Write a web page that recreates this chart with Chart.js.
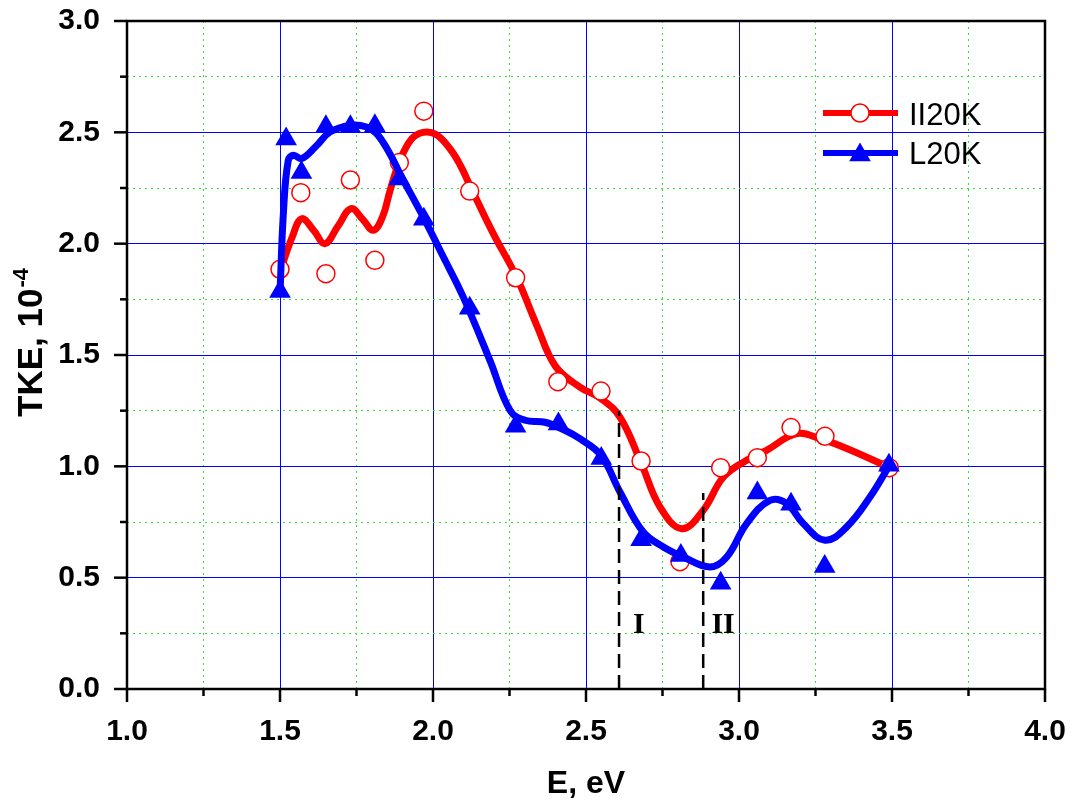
<!DOCTYPE html>
<html>
<head>
<meta charset="utf-8">
<title>TKE vs E</title>
<script src="https://cdn.jsdelivr.net/npm/chart.js@4"></script>
<style>
    body { margin: 0; background: #ffffff; }
    #wrap { width: 1076px; height: 800px; position: relative; }
</style>
</head>
<body>
<div id="wrap"><canvas id="tkeChart"></canvas></div>
<script>
// measured points, II20K (circles)
var redX = [1.50, 1.568, 1.65, 1.73, 1.81, 1.89, 1.97, 2.12, 2.27, 2.408, 2.549, 2.68, 2.807, 2.94, 3.06, 3.17, 3.281, 3.491];
var redY = [1.885, 2.229, 1.865, 2.286, 1.925, 2.364, 2.595, 2.236, 1.847, 1.38, 1.338, 1.024, 0.572, 0.994, 1.039, 1.174, 1.135, 0.994];

// measured points, L20K (triangles)
var blueX = [1.50, 1.52, 1.57, 1.65, 1.73, 1.81, 1.89, 1.97, 2.12, 2.27, 2.41, 2.55, 2.68, 2.81, 2.94, 3.06, 3.17, 3.28, 3.49];
var blueY = [1.785, 2.47, 2.32, 2.525, 2.525, 2.53, 2.29, 2.11, 1.71, 1.18, 1.19, 1.035, 0.67, 0.60, 0.475, 0.88, 0.83, 0.55, 1.005];

// smoothed curves
var redFitX = [1.505, 1.54, 1.571, 1.61, 1.647, 1.69, 1.732, 1.77, 1.805, 1.835, 1.86, 1.892, 1.93, 1.968, 2.01, 2.056, 2.09, 2.121, 2.197, 2.273, 2.34, 2.40, 2.48, 2.549, 2.611, 2.681, 2.742, 2.813, 2.883, 2.949, 3.025, 3.09, 3.188, 3.265, 3.352, 3.493];
var redFitY = [1.895, 2.03, 2.112, 2.06, 2.0, 2.08, 2.157, 2.11, 2.06, 2.12, 2.24, 2.374, 2.47, 2.50, 2.49, 2.425, 2.35, 2.26, 2.045, 1.85, 1.63, 1.45, 1.356, 1.304, 1.221, 1.012, 0.817, 0.72, 0.802, 0.952, 1.027, 1.072, 1.147, 1.124, 1.08, 0.994];

var blueFitX = [1.50, 1.511, 1.527, 1.544, 1.571, 1.62, 1.663, 1.729, 1.783, 1.816, 1.859, 1.892, 1.968, 2.034, 2.099, 2.186, 2.252, 2.301, 2.366, 2.431, 2.48, 2.549, 2.611, 2.687, 2.753, 2.818, 2.905, 2.96, 3.025, 3.101, 3.156, 3.21, 3.281, 3.352, 3.428, 3.492];
var blueFitY = [1.776, 2.135, 2.374, 2.397, 2.382, 2.441, 2.501, 2.531, 2.524, 2.494, 2.404, 2.314, 2.12, 1.94, 1.76, 1.476, 1.251, 1.207, 1.198, 1.162, 1.124, 1.049, 0.885, 0.705, 0.638, 0.593, 0.548, 0.593, 0.743, 0.847, 0.833, 0.743, 0.668, 0.728, 0.862, 1.005];

// dashed markers I and II
var edgeX = [2.608, 2.883];
var edgeTop = [1.248, 0.88];
var edgeLabels = ['I', 'II'];
var edgeLabelX = [2.673, 2.948];
var edgeLabelY = 0.25;

// labelled ticks
var xMajor = ['1.0', '1.5', '2.0', '2.5', '3.0', '3.5', '4.0'];
var yMajor = ['0.0', '0.5', '1.0', '1.5', '2.0', '2.5', '3.0'];

function pts(xs, ys) {
    return xs.map(function (x, i) { return { x: x, y: ys[i] }; });
}

function isMajor(v, list) {
    return list.indexOf(v.toFixed(1)) >= 0 && Math.abs(v * 2 - Math.round(v * 2)) < 1e-6;
}

var dashSets = edgeX.map(function (x, i) {
    return {
        data: [{ x: x, y: 0 }, { x: x, y: edgeTop[i] }],
        showLine: true,
        borderColor: '#000000',
        borderWidth: 2.5,
        borderDash: [14, 7],
        pointRadius: 0,
        order: 0
    };
});

var decor = {
    id: 'decor',
    afterDatasetsDraw: function (chart) {
        var c = chart.ctx, sx = chart.scales.x, sy = chart.scales.y;
        c.save();
        c.fillStyle = '#000000';
        c.font = 'bold 30px "Liberation Serif", "Times New Roman", serif';
        c.textAlign = 'center';
        c.textBaseline = 'alphabetic';
        edgeLabels.forEach(function (t, i) {
            c.fillText(t, sx.getPixelForValue(edgeLabelX[i]), sy.getPixelForValue(edgeLabelY));
        });
        c.restore();
    },
    afterDraw: function (chart) {
        var c = chart.ctx, a = chart.chartArea, sx = chart.scales.x, sy = chart.scales.y;
        c.save();
        c.strokeStyle = '#000000';
        c.lineWidth = 2.5;
        c.strokeRect(a.left, a.top, a.right - a.left, a.bottom - a.top);
        sx.ticks.forEach(function (t) {
            var px = sx.getPixelForValue(t.value);
            var len = isMajor(t.value, xMajor) ? 13 : 7;
            c.beginPath(); c.moveTo(px, a.bottom); c.lineTo(px, a.bottom + len); c.stroke();
        });
        sy.ticks.forEach(function (t) {
            var py = sy.getPixelForValue(t.value);
            var len = isMajor(t.value, yMajor) ? 13 : 7;
            c.beginPath(); c.moveTo(a.left, py); c.lineTo(a.left - len, py); c.stroke();
        });

        // axis titles
        c.fillStyle = '#000000';
        c.textAlign = 'center';
        c.textBaseline = 'alphabetic';
        c.font = 'bold 32px "Liberation Sans", Arial, sans-serif';
        c.fillText('E, eV', (a.left + a.right) / 2, 793);

        c.translate(42, 417);
        c.rotate(-Math.PI / 2);
        c.textAlign = 'left';
        c.font = 'bold 35px "Liberation Sans", Arial, sans-serif';
        var main = 'TKE, 10';
        c.fillText(main, 0, 0);
        var w = c.measureText(main).width;
        c.font = 'bold 22px "Liberation Sans", Arial, sans-serif';
        c.fillText('-4', w + 1, -14);
        c.setTransform(1, 0, 0, 1, 0, 0);

        // legend
        var items = [
            { label: 'II20K', color: '#ff0000', y: 113, base: 125 },
            { label: 'L20K', color: '#0000ff', y: 153, base: 164 }
        ];
        items.forEach(function (it, i) {
            c.strokeStyle = it.color;
            c.lineWidth = 6;
            c.beginPath(); c.moveTo(823, it.y); c.lineTo(898, it.y); c.stroke();
            if (i === 0) {
                c.beginPath();
                c.arc(860, it.y, 9, 0, Math.PI * 2);
                c.fillStyle = '#ffffff';
                c.fill();
                c.lineWidth = 1.5;
                c.stroke();
            } else {
                var r = 12.5, cy = it.y + 2;
                c.beginPath();
                c.moveTo(860, cy - r);
                c.lineTo(860 + r * Math.sin(2 * Math.PI / 3), cy + r / 2);
                c.lineTo(860 - r * Math.sin(2 * Math.PI / 3), cy + r / 2);
                c.closePath();
                c.fillStyle = it.color;
                c.fill();
            }
            c.fillStyle = '#000000';
            c.textAlign = 'left';
            c.font = '31px "Liberation Sans", Arial, sans-serif';
            c.fillText(it.label, 909, it.base);
        });
        c.restore();
    }
};

Chart.defaults.font.family = '"Liberation Sans", Arial, sans-serif';
Chart.defaults.color = '#000000';

var ctx = document.getElementById('tkeChart').getContext('2d');
var tkeChart = new Chart(ctx, {
    type: 'scatter',
    data: {
        datasets: dashSets.concat([
            {
                label: 'L20K',
                data: pts(blueX, blueY),
                pointStyle: 'triangle',
                pointRadius: 12.5,
                backgroundColor: '#0000ff',
                borderColor: '#0000ff',
                borderWidth: 0,
                order: 1
            },
            {
                label: 'L20K fit',
                data: pts(blueFitX, blueFitY),
                showLine: true,
                tension: 0.4,
                borderColor: '#0000ff',
                borderWidth: 7,
                pointRadius: 0,
                order: 2
            },
            {
                label: 'II20K',
                data: pts(redX, redY),
                pointStyle: 'circle',
                pointRadius: 9,
                backgroundColor: '#ffffff',
                borderColor: '#ff0000',
                borderWidth: 1.5,
                order: 3
            },
            {
                label: 'II20K fit',
                data: pts(redFitX, redFitY),
                showLine: true,
                tension: 0.4,
                borderColor: '#ff0000',
                borderWidth: 7,
                pointRadius: 0,
                order: 4
            }
        ])
    },
    options: {
        responsive: true,
        maintainAspectRatio: false,
        animation: false,
        layout: { padding: { top: 21, right: 31, left: 0, bottom: 0 } },
        plugins: { legend: { display: false }, tooltip: { enabled: false } },
        scales: {
            x: {
                type: 'linear',
                min: 1,
                max: 4,
                afterFit: function (s) { s.height = 111; s.paddingLeft = 0; s.paddingRight = 0; },
                ticks: {
                    stepSize: 0.25,
                    autoSkip: false,
                    maxRotation: 0,
                    padding: 25,
                    font: { size: 30, weight: 'bold' },
                    callback: function (v) { return isMajor(v, xMajor) ? v.toFixed(1) : ''; }
                },
                grid: {
                    drawTicks: false,
                    lineWidth: 1,
                    color: function (c) { return c.tick && isMajor(c.tick.value, xMajor) ? '#0000ff' : '#33e033'; }
                },
                border: {
                    display: false,
                    dash: function (c) { return c.tick && !isMajor(c.tick.value, xMajor) ? [2, 4] : []; }
                }
            },
            y: {
                type: 'linear',
                min: 0,
                max: 3,
                afterFit: function (s) { s.width = 127; s.paddingTop = 0; s.paddingBottom = 0; },
                ticks: {
                    stepSize: 0.25,
                    autoSkip: false,
                    padding: 27,
                    font: { size: 30, weight: 'bold' },
                    callback: function (v) { return isMajor(v, yMajor) ? v.toFixed(1) : ''; }
                },
                grid: {
                    drawTicks: false,
                    lineWidth: 1,
                    color: function (c) { return c.tick && isMajor(c.tick.value, yMajor) ? '#0000ff' : '#33e033'; }
                },
                border: {
                    display: false,
                    dash: function (c) { return c.tick && !isMajor(c.tick.value, yMajor) ? [2, 4] : []; }
                }
            }
        }
    },
    plugins: [decor]
});
</script>
</body>
</html>
